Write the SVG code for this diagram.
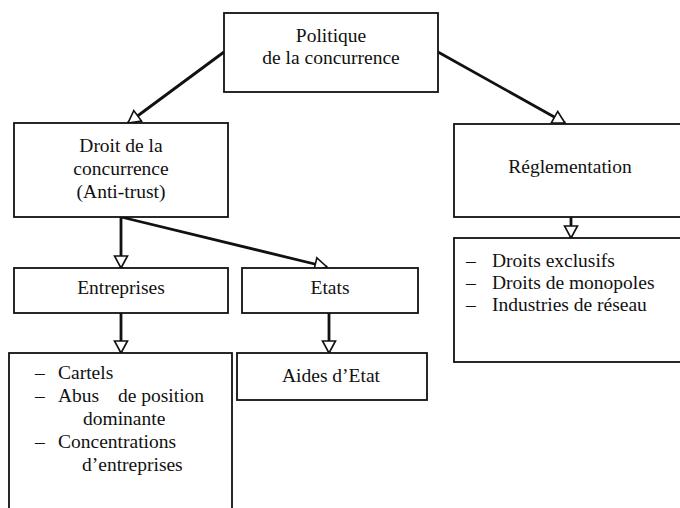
<svg xmlns="http://www.w3.org/2000/svg" width="680" height="508" viewBox="0 0 680 508">
<style>
.box{fill:#fff;stroke:#111;stroke-width:1.8}
.t{font-family:"Liberation Serif","Times New Roman",serif;font-size:19.5px;fill:#111}
.c{text-anchor:middle}
.edge{stroke:#111;stroke-width:2.8;fill:none;marker-end:url(#tri)}
</style>
<defs>
<marker id="tri" markerUnits="userSpaceOnUse" markerWidth="16" markerHeight="16" viewBox="-1 -8 15 16" refX="12" refY="0" orient="auto">
<path d="M0,-6.5 L12,0 L0,6.5 Z" fill="#fff" stroke="#111" stroke-width="1.6"/>
</marker>
</defs>
<rect width="680" height="508" fill="#fff"/>
<g id="connectors">
<line class="edge" x1="224" y1="52" x2="128" y2="123"/>
<line class="edge" x1="438" y1="52" x2="565" y2="123"/>
<line class="edge" x1="121" y1="217" x2="121" y2="268"/>
<line class="edge" x1="121" y1="217" x2="327" y2="267"/>
<line class="edge" x1="571" y1="217" x2="571" y2="238"/>
<line class="edge" x1="121" y1="313" x2="121" y2="353"/>
<line class="edge" x1="329" y1="313" x2="329" y2="353"/>
</g>
<g id="politique">
<rect class="box" x="224" y="13" width="214" height="79"/>
<text class="t c" x="331" y="42">Politique</text>
<text class="t c" x="331" y="64">de la concurrence</text>
</g>
<g id="droit">
<rect class="box" x="14" y="123" width="214" height="94"/>
<text class="t c" x="121" y="152">Droit de la</text>
<text class="t c" x="121" y="175">concurrence</text>
<text class="t c" x="121" y="198">(Anti-trust)</text>
</g>
<g id="reglementation">
<rect class="box" x="454" y="124" width="240" height="93"/>
<text class="t c" x="570" y="173">Réglementation</text>
</g>
<g id="reglementation-list">
<rect class="box" x="454" y="238" width="240" height="124"/>
<text class="t" x="466" y="267">–</text>
<text class="t" x="492" y="267">Droits exclusifs</text>
<text class="t" x="466" y="289">–</text>
<text class="t" x="492" y="289">Droits de monopoles</text>
<text class="t" x="466" y="311">–</text>
<text class="t" x="492" y="311">Industries de réseau</text>
</g>
<g id="entreprises">
<rect class="box" x="14" y="268" width="214" height="45"/>
<text class="t c" x="121" y="294">Entreprises</text>
</g>
<g id="etats">
<rect class="box" x="242" y="268" width="176" height="45"/>
<text class="t c" x="330" y="294">Etats</text>
</g>
<g id="entreprises-list">
<rect class="box" x="9" y="353" width="223" height="170"/>
<text class="t" x="35" y="379">–</text>
<text class="t" x="58" y="379">Cartels</text>
<text class="t" x="35" y="402">–</text>
<text class="t" x="58" y="402">Abus</text>
<text class="t" x="118" y="402">de position</text>
<text class="t" x="83" y="425">dominante</text>
<text class="t" x="35" y="448">–</text>
<text class="t" x="58" y="448">Concentrations</text>
<text class="t" x="82" y="471">d’entreprises</text>
</g>
<g id="aides">
<rect class="box" x="237" y="353" width="190" height="47"/>
<text class="t c" x="331" y="382">Aides d’Etat</text>
</g>
</svg>
